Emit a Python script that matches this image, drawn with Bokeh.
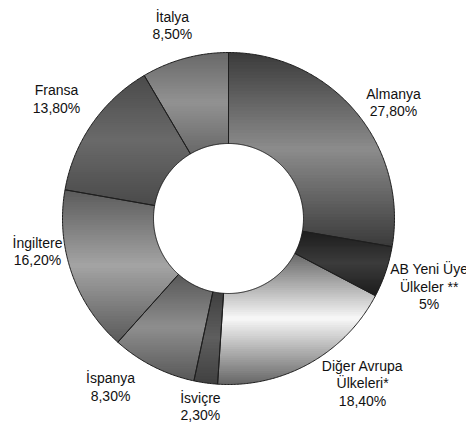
import numpy as np
from bokeh.plotting import figure
from bokeh.models import Range1d, ColumnDataSource
from bokeh.embed import file_html
from bokeh.resources import INLINE
from bokeh.core.properties import value

# ---------------- data ----------------
countries = ["Almanya", "AB Yeni Üye\nÜlkeler **", "Diğer Avrupa\nÜlkeleri*", "İsviçre",
             "İspanya", "İngiltere", "Fransa", "İtalya"]
shares = [27.8, 5.0, 18.4, 2.3, 8.3, 16.2, 13.8, 8.5]
share_labels = ["27,80%", "5%", "18,40%", "2,30%", "8,30%", "16,20%", "13,80%", "8,50%"]

# ---------------- style / layout ----------------
edge_colors = ["#3a3a3a", "#1c1c1c", "#666666", "#404040", "#585858", "#5a5a5a", "#4a4a4a", "#686868"]
mid_colors = ["#8c8c8c", "#3c3c3c", "#f8f8f8", "#5e5e5e", "#8e8e8e", "#a4a4a4", "#6a6a6a", "#929292"]
# label anchor: angle (deg clockwise from 12 o'clock) and distance from centre (px)
label_angle = [54.9, 108.8, 140.9, 188.5, 215.0, 260.2, 304.8, 343.8]
label_dist = [201.7, 212.0, 212.6, 190.1, 205.7, 193.8, 209.4, 201.0]
CX, CY, R_OUT, R_IN = 228.0, 218.0, 166.0, 75.0
LINE_H = 17.5
N_BANDS = 60

W, H = 466, 424
p = figure(width=W, height=H, output_backend="svg", toolbar_location=None,
           x_range=Range1d(0, W), y_range=Range1d(H, 0), min_border=0)
p.axis.visible = False
p.grid.visible = False
p.outline_line_color = None
p.background_fill_color = "white"
p.border_fill_color = "white"


def hex2rgb(h):
    h = h.lstrip("#")
    return np.array([int(h[i:i + 2], 16) for i in (0, 2, 4)], dtype=float)


def rgb2hex(c):
    c = np.clip(np.round(c), 0, 255).astype(int)
    return "#%02x%02x%02x" % tuple(c)


def clip_half(poly, yc, sign):
    out = []
    n = len(poly)
    for i in range(n):
        cur = poly[i]
        prev = poly[i - 1]
        cin = sign * (cur[1] - yc) >= 0
        pin = sign * (prev[1] - yc) >= 0
        if cin:
            if not pin:
                t = (yc - prev[1]) / (cur[1] - prev[1])
                out.append((prev[0] + t * (cur[0] - prev[0]), yc))
            out.append(cur)
        elif pin:
            t = (yc - prev[1]) / (cur[1] - prev[1])
            out.append((prev[0] + t * (cur[0] - prev[0]), yc))
    return out


total = sum(shares)
bounds = np.concatenate([[0.0], np.cumsum(shares)]) / total * 2 * np.pi

band_xs, band_ys, band_col = [], [], []
out_xs, out_ys = [], []
for i in range(len(shares)):
    a0, a1 = bounds[i], bounds[i + 1]
    npts = max(8, int(np.degrees(a1 - a0) * 2))
    th = np.linspace(a0, a1, npts)
    xs = np.concatenate([CX + R_OUT * np.sin(th), CX + R_IN * np.sin(th[::-1])])
    ys = np.concatenate([CY - R_OUT * np.cos(th), CY - R_IN * np.cos(th[::-1])])
    out_xs.append(list(xs))
    out_ys.append(list(ys))
    poly = list(zip(xs, ys))
    ymin, ymax = ys.min(), ys.max()
    hgt = (ymax - ymin) / N_BANDS
    ce, cm = hex2rgb(edge_colors[i]), hex2rgb(mid_colors[i])
    for k in range(N_BANDS):
        y0 = ymin + k * hgt - 0.45
        y1 = ymin + (k + 1) * hgt + 0.45
        piece = clip_half(poly, y0, 1)
        if len(piece) < 3:
            continue
        piece = clip_half(piece, y1, -1)
        if len(piece) < 3:
            continue
        t = (k + 0.5) / N_BANDS
        f = 1 - abs(2 * t - 1)
        band_xs.append([q[0] for q in piece])
        band_ys.append([q[1] for q in piece])
        band_col.append(rgb2hex(ce + (cm - ce) * f))

p.patches(xs=band_xs, ys=band_ys, fill_color=band_col, line_color=None)
p.patches(xs=out_xs, ys=out_ys, fill_color=None, line_color="#1e1e1e", line_width=1)

# labels
tx, ty, tt = [], [], []
for i in range(len(shares)):
    lines = countries[i].split("\n") + [share_labels[i]]
    ang = np.radians(label_angle[i])
    ax = CX + label_dist[i] * np.sin(ang)
    ay = CY - label_dist[i] * np.cos(ang)
    n = len(lines)
    for j, s in enumerate(lines):
        tx.append(ax)
        ty.append(ay + (j - (n - 1) / 2) * LINE_H)
        tt.append(s)

src = ColumnDataSource(dict(x=tx, y=ty, text=tt))
p.text(x="x", y="y", text="text", source=src, text_align="center", text_baseline="middle",
       text_font=value("Liberation Sans"), text_font_size="14px", text_color="#111111")

open("out.html", "w").write(file_html(p, INLINE))
